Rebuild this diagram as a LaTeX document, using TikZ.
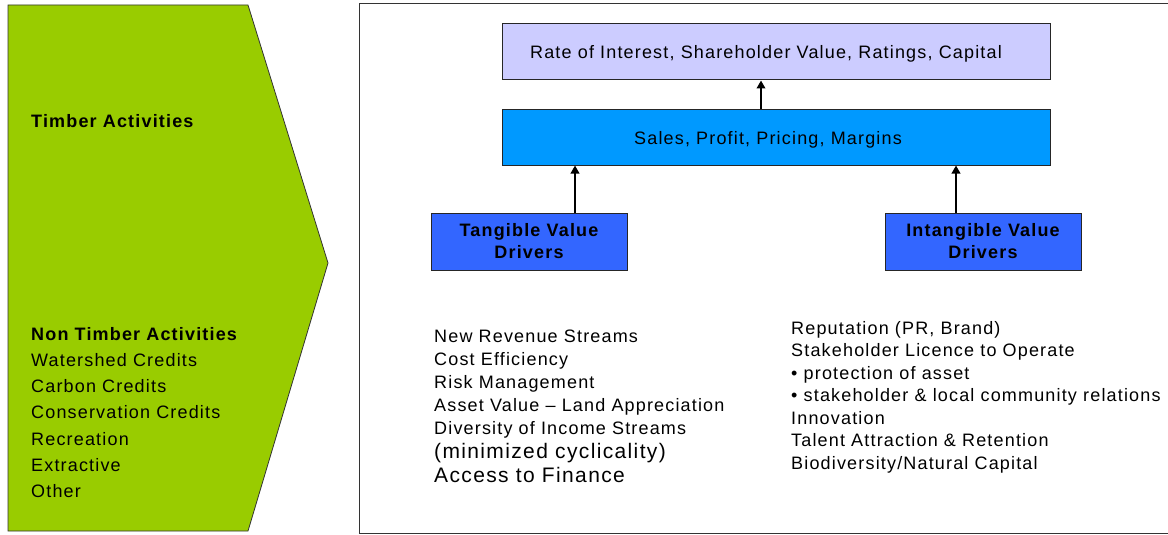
\documentclass[tikz,border=0pt]{standalone}
\usepackage{fontspec}
\setmainfont{Liberation Sans}[LetterSpace=6.5]
\usetikzlibrary{arrows.meta}

\definecolor{timbergreen}{HTML}{99CC00}
\definecolor{ratelilac}{HTML}{CCCCFF}
\definecolor{salesblue}{HTML}{0099FF}
\definecolor{driverblue}{HTML}{3366FF}

\newcommand{\lowtext}[1]{\smash{\raisebox{-7pt}{#1}}}

\tikzset{every node/.style={inner sep=0pt}}
\tikzstyle{valuebox}=[rectangle,draw=black!85,line width=1pt,minimum width=548pt,minimum height=56pt,font=\fontsize{18}{21}\selectfont]
\tikzstyle{driverbox}=[rectangle,draw=black!85,line width=1pt,fill=driverblue,minimum width=196pt,minimum height=57pt,align=center,font=\fontsize{18}{22}\selectfont\bfseries]
\tikzstyle{listtext}=[anchor=north west,align=left,font=\fontsize{18}{23}\selectfont]
\tikzstyle{uparrow}=[line width=2pt,-{Triangle[width=8.5pt,length=8pt]}]

\begin{document}
\begin{tikzpicture}[x=1pt,y=-1pt]
    \useasboundingbox (0,0) rectangle (1168,535);
    % activities arrow
    \draw [fill=timbergreen,draw=black!80,line width=0.8pt]
        (8,5) -- (248,5) -- (328,263) -- (248,531) -- (8,531) -- cycle;
    \node [anchor=west,font=\fontsize{18}{21}\selectfont\bfseries] (timber) at (31,121) {Timber Activities};
    \node [listtext,font=\fontsize{18}{26.2}\selectfont] (nontimber) at (31,327) {\textbf{Non Timber Activities}\\Watershed Credits\\Carbon Credits\\Conservation Credits\\Recreation\\Extractive\\Other};
    % value frame
    \draw [draw=black!80,line width=1pt] (359,4) rectangle (1180,533);
    \node [valuebox,fill=ratelilac] (rate) at (776,52) {\hspace*{-20pt}\lowtext{Rate of Interest, Shareholder Value, Ratings, Capital}};
    \node [valuebox,fill=salesblue] (sales) at (776,137) {\hspace*{-16pt}\lowtext{Sales, Profit, Pricing, Margins}};
    \node [driverbox] (tangible) at (529,241.5) {Tangible Value\\Drivers};
    \node [driverbox] (intangible) at (983,241.5) {Intangible Value\\Drivers};
    \draw [uparrow] ([xshift=-15pt]sales.north) -- ([xshift=-15pt]sales.north |- rate.south);
    \draw [uparrow] ([xshift=46pt]tangible.north) -- ([xshift=46pt]tangible.north |- sales.south);
    \draw [uparrow] ([xshift=-27pt]intangible.north) -- ([xshift=-27pt]intangible.north |- sales.south);
    % driver lists
    \node [listtext] (tangiblelist) at (434,329.5) {New Revenue Streams\\Cost Efficiency\\Risk Management\\Asset Value -- Land Appreciation\\Diversity of Income Streams\\[1.5pt]{\fontsize{21}{24}\selectfont (minimized cyclicality)}\\[0.5pt]{\fontsize{21}{24}\selectfont Access to Finance}};
    \node [listtext,font=\fontsize{18}{22.5}\selectfont] (intangiblelist) at (791,321) {Reputation (PR, Brand)\\Stakeholder Licence to Operate\\\textbullet\ protection of asset\\\textbullet\ stakeholder \& local community relations\\Innovation\\Talent Attraction \& Retention\\Biodiversity/Natural Capital};
\end{tikzpicture}
\end{document}
